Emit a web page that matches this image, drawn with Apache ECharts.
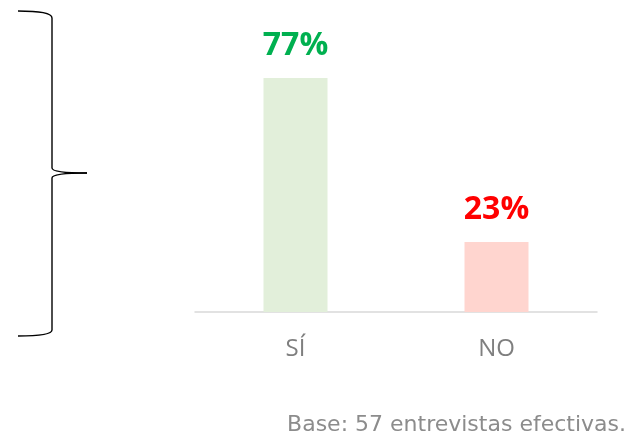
<!DOCTYPE html>
<html>
<head>
<meta charset="utf-8">
<script src="https://cdn.jsdelivr.net/npm/echarts@6/dist/echarts.min.js"></script>
<style>
  html, body { margin: 0; padding: 0; background: #fff; }
  #chart { width: 629px; height: 437px; }
</style>
</head>
<body>
<div id="chart"></div>
<script>
const categories = ['SÍ', 'NO'];
const values = [77, 23];
const barColors = ['#e2efda', '#ffd5cf'];
const labelColors = ['#00b050', '#ff0000'];
const footnote = 'Base: 57 entrevistas efectivas.';

const chart = echarts.init(document.getElementById('chart'));

// curly brace on the left, built from curves and lines
const braceStyle = { fill: 'none', stroke: '#000', lineWidth: 1.4 };
const brace = [
  { type: 'bezierCurve', shape: { x1: 18, y1: 11, cpx1: 40, cpy1: 11, cpx2: 52, cpy2: 13, x2: 52, y2: 18 } },
  { type: 'line', shape: { x1: 52, y1: 18, x2: 52, y2: 168 } },
  { type: 'bezierCurve', shape: { x1: 52, y1: 168, cpx1: 52, cpy1: 172, cpx2: 70, cpy2: 173, x2: 87, y2: 173 } },
  { type: 'bezierCurve', shape: { x1: 87, y1: 173, cpx1: 70, cpy1: 173, cpx2: 52, cpy2: 174, x2: 52, y2: 178 } },
  { type: 'line', shape: { x1: 52, y1: 178, x2: 52, y2: 330 } },
  { type: 'bezierCurve', shape: { x1: 52, y1: 330, cpx1: 52, cpy1: 334, cpx2: 40, cpy2: 336, x2: 18, y2: 336 } }
].map(g => Object.assign(g, { style: braceStyle }));

chart.setOption({
  animation: false,
  grid: { left: 195, right: 32, top: 8, bottom: 125 },
  xAxis: {
    type: 'category',
    data: categories,
    axisTick: { show: false },
    axisLine: { show: true, lineStyle: { color: '#d9d9d9', width: 1.5 } },
    axisLabel: {
      margin: 25,
      fontFamily: 'Open Sans',
      fontSize: 24,
      color: '#7f7f7f'
    }
  },
  yAxis: {
    type: 'value',
    min: 0,
    max: 100,
    show: false
  },
  series: [{
    type: 'bar',
    barWidth: 64,
    data: values.map((v, i) => ({
      value: v,
      itemStyle: { color: barColors[i] },
      label: { color: labelColors[i] }
    })),
    label: {
      show: true,
      position: 'top',
      distance: 16,
      formatter: '{c}%',
      fontFamily: 'Open Sans',
      fontWeight: 'bold',
      fontSize: 32
    }
  }],
  graphic: brace.concat([
    {
      type: 'text',
      right: 3,
      bottom: 1,
      style: {
        text: footnote,
        fontFamily: 'DejaVu Sans',
        fontSize: 22,
        fill: '#8c8c8c'
      }
    }
  ])
});
</script>
</body>
</html>
